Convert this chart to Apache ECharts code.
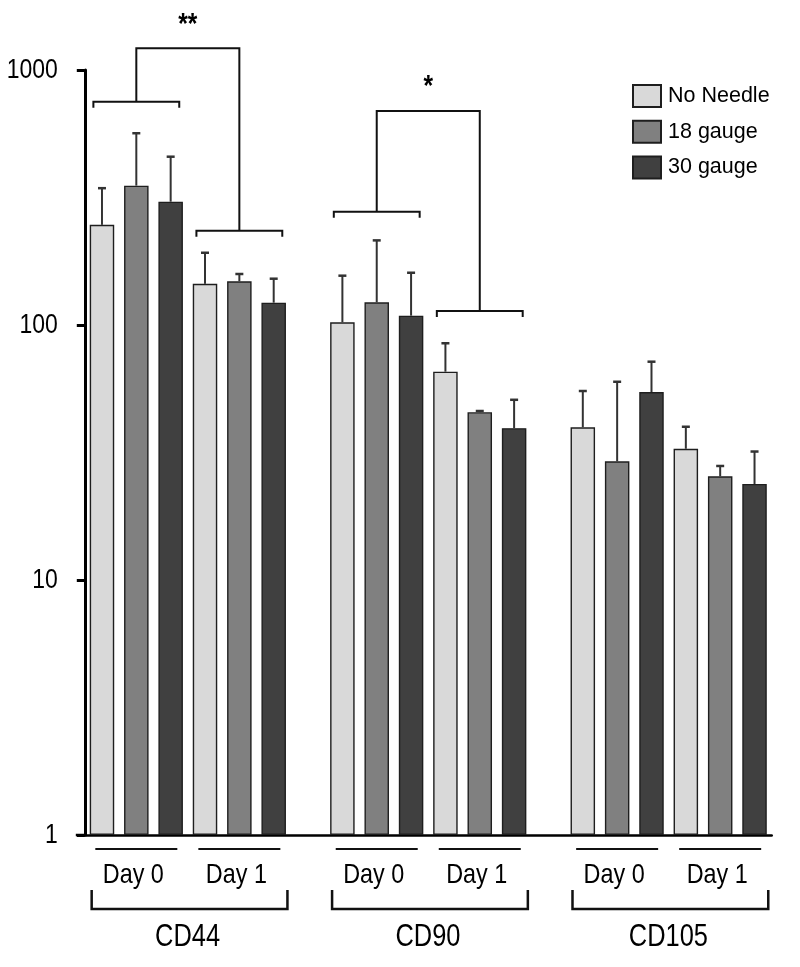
<!DOCTYPE html>
<html><head><meta charset="utf-8">
<script src="https://cdn.jsdelivr.net/npm/echarts@6/dist/echarts.min.js"></script>
<style>html,body{margin:0;padding:0;background:#fff}#c{width:800px;height:967px}</style>
</head><body><div id="c"></div>
<script>
// ---- data ----
const markers = ['CD44', 'CD90', 'CD105'];
const days = ['Day 0', 'Day 1'];
const treatments = ['No Needle', '18 gauge', '30 gauge'];
// groups order: CD44 D0, CD44 D1, CD90 D0, CD90 D1, CD105 D0, CD105 D1
const noNeedle    = [247, 145, 102.5, 65.6, 39.7, 32.7];
const noNeedleErr = [97, 47, 53.6, 19.2, 15.4, 7.2];
const gauge18     = [352, 148.4, 122.7, 45.5, 29.2, 25.5];
const gauge18Err  = [213, 10.1, 92, 0.5, 30.7, 2.5];
const gauge30     = [304.5, 122.3, 108.8, 39.4, 54.6, 23.8];
const gauge30Err  = [152.6, 29.6, 51.5, 11.5, 17.2, 8.1];
const yTicks = [1, 10, 100, 1000];
const yTickLabels = ['1', '10', '100', '1000'];
// significance brackets: [group A, group B], arm heights, connector height, label
const sigPairs  = [[0, 1], [2, 3]];
const sigArms   = [[751, 234], [278, 113.5]];
const sigTops   = [1217, 690];
const sigLabels = ['**', '*'];

// ---- style ----
const FONT = "'Liberation Sans',Arial,sans-serif";
const NARROW = 0.82;
const colors = ['#d9d9d9', '#808080', '#404040'];
const values = [noNeedle, gauge18, gauge30];
const errs = [noNeedleErr, gauge18Err, gauge30Err];

const perGroup = treatments.length;
const slotsPerMarker = days.length * perGroup + 1;
const nSlots = markers.length * slotsPerMarker - 1;
const cats = [];
for (let i = 0; i < nSlots; i++) cats.push('gap' + i);
function slotOf(g, t) { const m = Math.floor(g / days.length), d = g % days.length; return m * slotsPerMarker + d * perGroup + t; }
const nGroups = markers.length * days.length;
for (let g = 0; g < nGroups; g++) for (let t = 0; t < perGroup; t++)
  cats[slotOf(g, t)] = markers[Math.floor(g / 2)] + ' ' + days[g % 2] + ' ' + treatments[t];

const series = treatments.map((name, t) => {
  const data = cats.map(() => '-');
  for (let g = 0; g < nGroups; g++) data[slotOf(g, t)] = values[t][g];
  return {
    name, type: 'bar', data, barWidth: 24.5, barGap: '-100%',
    itemStyle: { color: colors[t], borderColor: '#1e1e1e', borderWidth: 1.4 },
    z: 2, animation: false
  };
});
const errData = [];
for (let t = 0; t < perGroup; t++) for (let g = 0; g < nGroups; g++)
  errData.push([slotOf(g, t), values[t][g], values[t][g] + errs[t][g]]);
series.push({
  type: 'custom', name: 'err', data: errData, z: 3, animation: false,
  encode: { x: 0, y: [1, 2] }, silent: true,
  renderItem(params, api) {
    const a = api.coord([api.value(0), api.value(1)]);
    const b = api.coord([api.value(0), api.value(2)]);
    return { type: 'group', children: [
      { type: 'line', shape: { x1: a[0], y1: a[1], x2: b[0], y2: b[1] }, style: { stroke: '#333', lineWidth: 2 } },
      { type: 'line', shape: { x1: b[0] - 4, y1: b[1], x2: b[0] + 4, y2: b[1] }, style: { stroke: '#333', lineWidth: 2.5 } }
    ]};
  }
});

const chart = echarts.init(document.getElementById('c'), null, { renderer: 'canvas' });
chart.setOption({
  backgroundColor: '#fff',
  animation: false,
  grid: { left: 84.8, right: 28.3, top: 70, bottom: 132, containLabel: false, outerBoundsMode: 'none' },
  legend: {
    data: treatments, orient: 'vertical', left: 632, top: 84,
    itemWidth: 28, itemHeight: 22, itemGap: 11.7, padding: 0, icon: 'rect',
    textStyle: { fontFamily: FONT, fontSize: 21.5, color: '#000', padding: [0, 0, 0, 2] },
    selectedMode: false
  },
  xAxis: {
    type: 'category', data: cats, boundaryGap: true,
    axisLine: { lineStyle: { color: '#000', width: 2.5 } },
    axisTick: { show: false }, axisLabel: { show: false }, splitLine: { show: false }
  },
  yAxis: {
    type: 'log', logBase: 10, min: yTicks[0], max: yTicks[yTicks.length - 1],
    axisLine: { show: true, lineStyle: { color: '#000', width: 3 } },
    axisTick: { show: true, length: 8, lineStyle: { color: '#000', width: 3 } },
    minorTick: { show: false },
    splitLine: { show: false },
    axisLabel: { show: false }
  },
  series
});

function px(slot, v) { return chart.convertToPixel({ xAxisIndex: 0, yAxisIndex: 0 }, [slot, v]); }
function narrowText(x, y, text, size, bold, align) {
  return { type: 'text', x, y, scaleX: NARROW, scaleY: 1,
    style: { x: 0, y: 0, text, font: (bold ? 'bold ' : '') + size + 'px ' + FONT, fill: '#000', align: align || 'center', verticalAlign: 'middle' } };
}
const slotW = px(1, 1)[0] - px(0, 1)[0];
const axisY = px(0, yTicks[0])[1];
const gx = px(0, 1)[0] - slotW / 2;
const g = [];
const lineStyle = { stroke: '#111', lineWidth: 2, fill: null };
// y tick labels
yTicks.forEach((v, i) => g.push(narrowText(gx - 27, px(0, v)[1], yTickLabels[i], 28, false, 'right')));
// x axis extension to the left
g.push({ type: 'line', shape: { x1: gx - 9, y1: axisY, x2: gx, y2: axisY }, style: { stroke: '#000', lineWidth: 2.5 } });
// significance brackets
sigPairs.forEach((pair, i) => {
  const cx = pair.map(gr => px(slotOf(gr, 1), 1)[0]);
  const ay = sigArms[i].map(v => px(0, v)[1]);
  const ty = px(0, sigTops[i])[1];
  const hw = slotW * 1.25;
  pair.forEach((gr, j) => {
    g.push({ type: 'polyline', shape: { points: [[cx[j] - hw, ay[j] + 6], [cx[j] - hw, ay[j]], [cx[j] + hw, ay[j]], [cx[j] + hw, ay[j] + 6]] }, style: lineStyle });
  });
  g.push({ type: 'polyline', shape: { points: [[cx[0], ay[0]], [cx[0], ty], [cx[1], ty], [cx[1], ay[1]]] }, style: lineStyle });
  g.push(narrowText((cx[0] + cx[1]) / 2, ty - 24, sigLabels[i], 30, true));
});
// bottom group labels
for (let gr = 0; gr < nGroups; gr++) {
  const c = px(slotOf(gr, 1), 1)[0];
  g.push({ type: 'line', shape: { x1: c - 41, y1: axisY + 14, x2: c + 41, y2: axisY + 14 }, style: { stroke: '#111', lineWidth: 2 } });
  g.push(narrowText(c - 3, axisY + 40, days[gr % 2], 28.5));
}
markers.forEach((m, mi) => {
  const l = px(slotOf(mi * 2, 0), 1)[0] - slotW * 0.3;
  const r = px(slotOf(mi * 2 + 1, perGroup - 1), 1)[0] + slotW * 0.4;
  const y0 = axisY + 55, y1 = axisY + 74;
  g.push({ type: 'polyline', shape: { points: [[l, y0], [l, y1], [r, y1], [r, y0]] }, style: { stroke: '#111', lineWidth: 2.5, fill: null } });
  g.push(narrowText((l + r) / 2 - 2, axisY + 102, m, 31));
});
chart.setOption({ graphic: g });
</script></body></html>
